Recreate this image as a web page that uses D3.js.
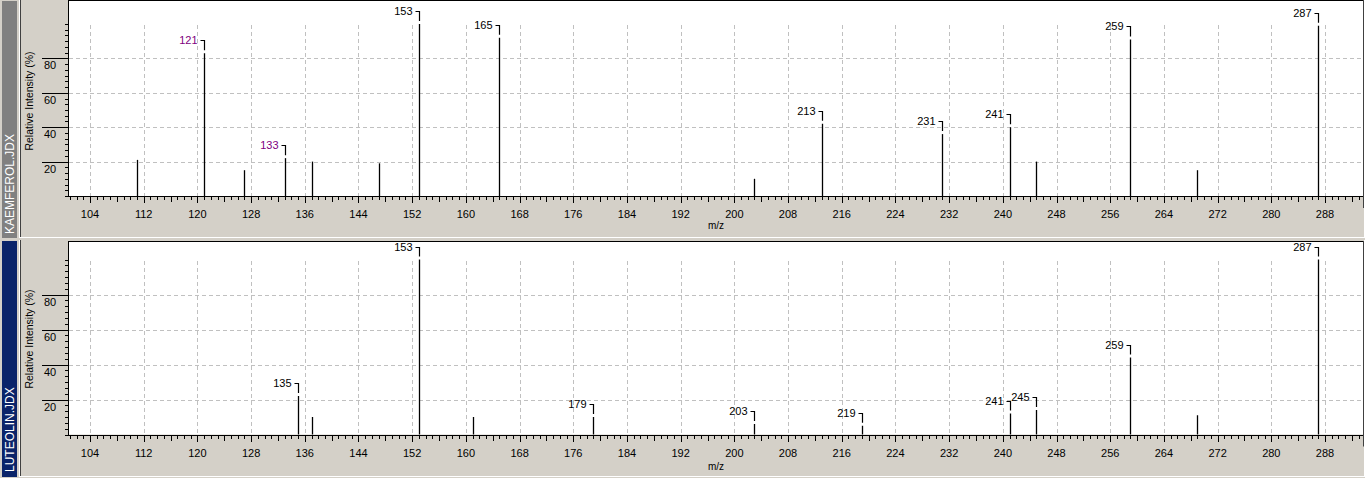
<!DOCTYPE html>
<html>
<head>
<meta charset="utf-8">
<script src="https://cdn.jsdelivr.net/npm/d3@7"></script>
<style>
html,body{margin:0;padding:0;background:#d4d0c8;}
svg{display:block;}
text{font-family:"Liberation Sans",Arial,sans-serif;}
</style>
</head>
<body>
<svg id="chart" width="1365" height="478"></svg>
<script>
// ---------- data ----------
const mzDomain = [100.87, 293.66];
const xTickLabels = [104,112,120,128,136,144,152,160,168,176,184,192,200,208,216,224,232,240,248,256,264,272,280,288];
const yTickLabels = [20,40,60,80];

const kaempferolName = "KAEMFEROL.JDX";
const kaempferolMz  = [111,121,127,133,137,147,153,165,203,213,231,241,245,259,269,287];
const kaempferolInt = [21, 83, 15, 22, 20, 19, 100,92, 10, 42, 36, 40, 20, 91, 15, 99];
const kaempferolLabeled = [121,133,153,165,213,231,241,259,287];
const kaempferolPurple = [121,133];

const luteolinName = "LUTEOLIN.JDX";
const luteolinMz  = [135,137,153,161,179,203,219,241,245,259,269,287];
const luteolinInt = [22, 10, 100,10, 10, 6,  5,  12, 14, 44, 11, 100];
const luteolinLabeled = [135,153,179,203,219,241,245,259,287];
const luteolinPurple = [];

// ---------- layout ----------
const svg = d3.select("#chart");
const W = 1365, H = 478;
svg.append("rect").attr("width",W).attr("height",H).attr("fill","#d4d0c8");

const x = d3.scaleLinear().domain(mzDomain).range([69, 1363]);

const panels = [
  {name:kaempferolName, mz:kaempferolMz, val:kaempferolInt, lab:kaempferolLabeled, purple:kaempferolPurple,
   top:0, bottom:238, plotTop:0, y0:196, y100:24, stripColor:"#808080", nameY:234, mzY:229, ylabY:101},
  {name:luteolinName, mz:luteolinMz, val:luteolinInt, lab:luteolinLabeled, purple:luteolinPurple,
   top:240, bottom:477, plotTop:241, y0:434.5, y100:259.5, stripColor:"#0a246a", nameY:472, mzY:470, ylabY:339}
];

panels.forEach(p => {
  const g = svg.append("g");
  const y = d3.scaleLinear().domain([0,100]).range([p.y0, p.y100]);

  // side strip
  g.append("rect").attr("x",2).attr("y",p.top+1).attr("width",15).attr("height",p.bottom-p.top-1)
    .attr("fill",p.stripColor);
  g.append("text").attr("transform",`translate(14,${p.nameY}) rotate(-90)`)
    .attr("fill","#ffffff").attr("font-size",12).attr("text-anchor","start").text(p.name);

  // panel frame (sunken)
  g.append("line").attr("x1",20.5).attr("x2",20.5).attr("y1",p.top).attr("y2",p.bottom)
    .attr("stroke","#404040").attr("stroke-width",1);
  g.append("line").attr("x1",19.5).attr("x2",19.5).attr("y1",p.top).attr("y2",p.bottom)
    .attr("stroke","#ffffff").attr("stroke-width",1);
  g.append("line").attr("x1",20).attr("x2",W).attr("y1",p.bottom-0.5).attr("y2",p.bottom-0.5)
    .attr("stroke","#ffffff").attr("stroke-width",1);
  g.append("line").attr("x1",1364.5).attr("x2",1364.5).attr("y1",p.top).attr("y2",p.bottom)
    .attr("stroke","#ffffff").attr("stroke-width",1);

  // plot area
  const px0 = 69, px1 = 1363;
  g.append("rect").attr("x",px0).attr("y",p.plotTop).attr("width",px1-px0).attr("height",p.y0-p.plotTop)
    .attr("fill","#ffffff");

  // gridlines
  const grid = g.append("g").attr("stroke","#c0c0c0").attr("stroke-dasharray","4,3").attr("shape-rendering","crispEdges");
  grid.selectAll("line.v").data(xTickLabels).join("line")
    .attr("x1",d=>Math.round(x(d))+0.5).attr("x2",d=>Math.round(x(d))+0.5)
    .attr("y1",y(100)+1).attr("y2",p.y0);
  grid.selectAll("line.h").data(yTickLabels).join("line")
    .attr("x1",px0).attr("x2",px1)
    .attr("y1",d=>Math.round(y(d))+0.5).attr("y2",d=>Math.round(y(d))+0.5);

  // plot border
  g.append("line").attr("x1",px0).attr("x2",px1).attr("y1",p.plotTop+0.5).attr("y2",p.plotTop+0.5)
    .attr("stroke","#000").attr("stroke-width",1);
  g.append("line").attr("x1",px0-0.5).attr("x2",px0-0.5).attr("y1",p.plotTop).attr("y2",p.y0+1)
    .attr("stroke","#000").attr("stroke-width",1);
  g.append("line").attr("x1",px1+0.5).attr("x2",px1+0.5).attr("y1",p.plotTop).attr("y2",p.y0+12)
    .attr("stroke","#404040").attr("stroke-width",1);
  g.append("line").attr("x1",px0-1).attr("x2",px1).attr("y1",Math.round(p.y0)+0.5).attr("y2",Math.round(p.y0)+0.5)
    .attr("stroke","#000").attr("stroke-width",1.2);

  // x ticks
  const axY = Math.round(p.y0)+1;
  const xt = d3.range(101, 294);
  g.append("g").attr("stroke","#000").attr("shape-rendering","crispEdges")
    .selectAll("line").data(xt).join("line")
    .attr("x1",d=>Math.round(x(d))+0.5).attr("x2",d=>Math.round(x(d))+0.5)
    .attr("y1",axY).attr("y2",d=> axY + (d%8===0 ? 6 : (d%4===0 ? 4.5 : 3)));
  g.append("g").selectAll("text").data(xTickLabels).join("text")
    .attr("x",d=>x(d)).attr("y",axY+21).attr("text-anchor","middle").attr("font-size",11)
    .attr("fill","#000").text(d=>d);
  g.append("text").attr("x",(px0+px1)/2).attr("y",p.mzY).attr("text-anchor","middle")
    .attr("font-size",10).attr("fill","#000").text("m/z");

  // y ticks
  const minor = d3.range(0, 101, 20/6);
  g.append("g").attr("stroke","#000").attr("shape-rendering","crispEdges")
    .selectAll("line").data(minor).join("line")
    .attr("x1",px0-4).attr("x2",px0)
    .attr("y1",d=>Math.round(y(d))+0.5).attr("y2",d=>Math.round(y(d))+0.5);
  g.append("g").attr("stroke","#000").attr("shape-rendering","crispEdges")
    .selectAll("line").data(yTickLabels).join("line")
    .attr("x1",42).attr("x2",px0)
    .attr("y1",d=>Math.round(y(d))+0.5).attr("y2",d=>Math.round(y(d))+0.5);
  g.append("g").selectAll("text").data(yTickLabels).join("text")
    .attr("x",44).attr("y",d=>y(d)+11).attr("text-anchor","start").attr("font-size",11)
    .attr("fill","#000").text(d=>d);
  g.append("text").attr("transform",`translate(33,${p.ylabY}) rotate(-90)`)
    .attr("text-anchor","middle").attr("font-size",10.5).attr("fill","#000")
    .text("Relative Intensity (%)");

  // peaks
  const peaks = p.mz.map((m,i)=>({mz:m, v:p.val[i]}));
  g.append("g").attr("stroke","#000").attr("stroke-width",1.3)
    .selectAll("line").data(peaks).join("line")
    .attr("x1",d=>Math.round(x(d.mz))+0.5).attr("x2",d=>Math.round(x(d.mz))+0.5)
    .attr("y1",d=>y(d.v)).attr("y2",p.y0);

  // peak labels with bracket
  const labeled = peaks.filter(d=>p.lab.includes(d.mz));
  const lg = g.append("g");
  labeled.forEach(d=>{
    const px = Math.round(x(d.mz))+0.5;
    const top = y(d.v);
    const by = Math.round(top-13)+0.5;
    lg.append("path").attr("d",`M${px-4},${by}H${px}V${top-3}`)
      .attr("fill","none").attr("stroke","#000").attr("stroke-width",1.2);
    lg.append("text").attr("x",px-7).attr("y",by+3.5).attr("text-anchor","end")
      .attr("font-size",11).attr("fill", p.purple.includes(d.mz) ? "#800080" : "#000")
      .text(d.mz);
  });
});
</script>
</body>
</html>
